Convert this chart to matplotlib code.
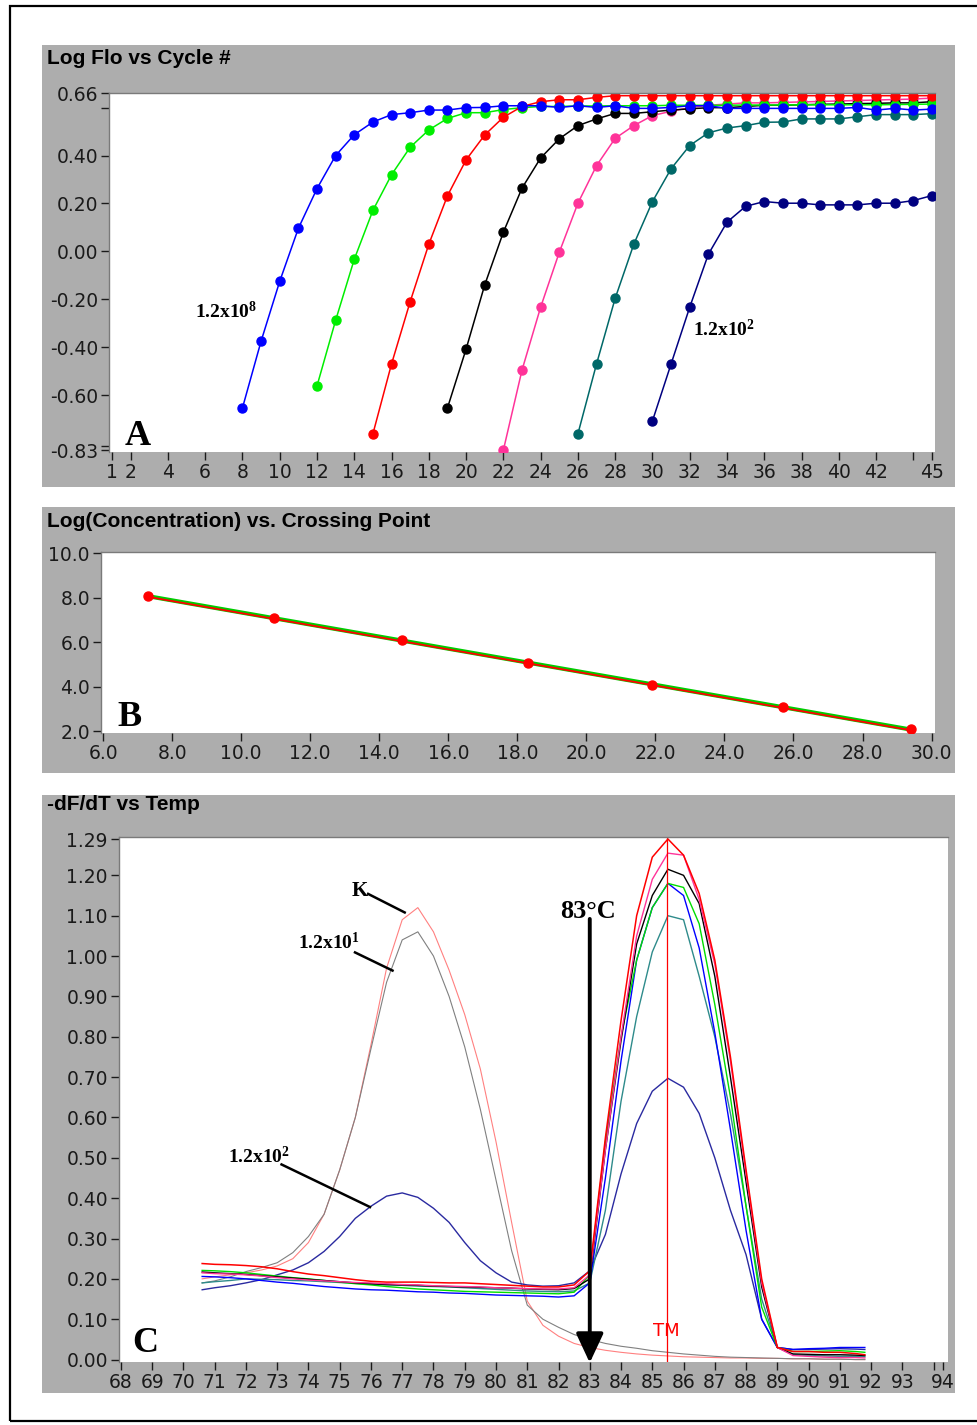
import numpy as np
import matplotlib
matplotlib.use("Agg")
import matplotlib.pyplot as plt
from matplotlib.patches import Rectangle

# ---------------- DATA ----------------
# Panel A : Log fluorescence vs cycle number (each series starts at its first plotted cycle)
A_START = {"navy": 30, "teal": 26, "pink": 22, "black": 19, "green": 12, "red": 15, "blue": 8}
A_BLUE = [-0.654, -0.375, -0.125, 0.096, 0.262, 0.400, 0.487, 0.540, 0.571, 0.579, 0.590, 0.590,
          0.600, 0.601, 0.608, 0.608, 0.608, 0.601, 0.608, 0.601, 0.608, 0.597, 0.597, 0.601,
          0.608, 0.608, 0.597, 0.597, 0.597, 0.597, 0.597, 0.597, 0.597, 0.601, 0.590, 0.597,
          0.590, 0.594]
A_GREEN = [-0.562, -0.288, -0.033, 0.171, 0.320, 0.435, 0.507, 0.555, 0.579, 0.579, 0.592, 0.600,
           0.605, 0.605, 0.607, 0.607, 0.608, 0.608, 0.608, 0.610, 0.610, 0.610, 0.610, 0.611,
           0.611, 0.611, 0.612, 0.612, 0.612, 0.612, 0.612, 0.613, 0.614, 0.615]
A_RED = [-0.762, -0.470, -0.210, 0.030, 0.232, 0.382, 0.486, 0.560, 0.605, 0.625, 0.633, 0.633,
         0.643, 0.650, 0.650, 0.650, 0.650, 0.650, 0.650, 0.650, 0.650, 0.650, 0.650, 0.650,
         0.650, 0.650, 0.650, 0.650, 0.650, 0.650, 0.650]
A_BLACK = [-0.654, -0.408, -0.140, 0.080, 0.264, 0.390, 0.470, 0.525, 0.553, 0.576, 0.576, 0.583,
           0.590, 0.595, 0.600, 0.600, 0.605, 0.610, 0.610, 0.612, 0.614, 0.615, 0.617, 0.618,
           0.620, 0.620, 0.625]
A_PINK = [-0.830, -0.496, -0.233, -0.004, 0.201, 0.358, 0.472, 0.525, 0.567, 0.585, 0.600, 0.610,
          0.615, 0.620, 0.620, 0.622, 0.624, 0.626, 0.628, 0.630, 0.632, 0.634, 0.636, 0.640]
A_TEAL = [-0.762, -0.470, -0.196, 0.030, 0.208, 0.345, 0.442, 0.495, 0.515, 0.525, 0.539, 0.540,
          0.553, 0.553, 0.553, 0.562, 0.571, 0.571, 0.571, 0.575]
A_NAVY = [-0.708, -0.470, -0.233, -0.012, 0.122, 0.188, 0.208, 0.201, 0.201, 0.194, 0.194, 0.194,
          0.201, 0.201, 0.212, 0.233]
A_XTICKS = [1, 2, 4, 6, 8, 10, 12, 14, 16, 18, 20, 22, 24, 26, 28, 30, 32, 34, 36, 38, 40, 42, 44, 45]
A_XLABELS = ["1", "2", "4", "6", "8", "10", "12", "14", "16", "18", "20", "22", "24", "26", "28",
             "30", "32", "34", "36", "38", "40", "42", "", "45"]
A_YTICKS = [0.66, 0.60, 0.40, 0.20, 0.00, -0.20, -0.40, -0.60, -0.815, -0.83]
A_YLABELS = ["0.66", "", "0.40", "0.20", "0.00", "-0.20", "-0.40", "-0.60", "", "-0.83"]

# Panel B : Log(concentration) vs crossing point
B_CP = [7.29, 10.94, 14.65, 18.30, 21.89, 25.69, 29.41]
B_LOGC = [8.08, 7.08, 6.08, 5.08, 4.08, 3.08, 2.08]
B_XTICKS = [6.0, 8.0, 10.0, 12.0, 14.0, 16.0, 18.0, 20.0, 22.0, 24.0, 26.0, 28.0, 30.0]
B_YTICKS = [2.0, 4.0, 6.0, 8.0, 10.0]

# Panel C : -dF/dT vs temperature
C_T = [70.6, 71.0, 71.5, 72.0, 72.5, 73.0, 73.5, 74.0, 74.5, 75.0, 75.5, 76.0, 76.5, 77.0, 77.5,
       78.0, 78.5, 79.0, 79.5, 80.0, 80.5, 81.0, 81.5, 82.0, 82.5, 83.0, 83.5, 84.0, 84.5, 85.0,
       85.5, 86.0, 86.5, 87.0, 87.5, 88.0, 88.5, 89.0, 89.5, 90.0, 90.5, 91.0, 91.5, 91.8]
C_K = [0.200, 0.205, 0.210, 0.215, 0.222, 0.232, 0.250, 0.290, 0.360, 0.470, 0.600, 0.780, 0.970,
       1.090, 1.120, 1.060, 0.965, 0.855, 0.720, 0.540, 0.340, 0.145, 0.085, 0.058, 0.040, 0.030,
       0.023, 0.018, 0.014, 0.011, 0.009, 0.007, 0.006, 0.005, 0.004, 0.004, 0.003, 0.003, 0.002,
       0.002, 0.001, 0.001, 0.000, 0.000]
C_E1 = [0.190, 0.195, 0.205, 0.218, 0.228, 0.240, 0.265, 0.305, 0.360, 0.470, 0.600, 0.770, 0.935,
        1.040, 1.060, 1.000, 0.900, 0.775, 0.620, 0.445, 0.270, 0.135, 0.100, 0.080, 0.062, 0.050,
        0.040, 0.033, 0.028, 0.022, 0.018, 0.014, 0.011, 0.008, 0.006, 0.005, 0.004, 0.003, 0.002,
        0.002, 0.001, 0.001, 0.000, 0.000]
C_E2 = [0.173, 0.178, 0.183, 0.190, 0.198, 0.210, 0.222, 0.240, 0.268, 0.305, 0.350, 0.380, 0.405,
        0.413, 0.402, 0.375, 0.340, 0.290, 0.245, 0.215, 0.192, 0.185, 0.182, 0.183, 0.190, 0.220,
        0.310, 0.460, 0.585, 0.665, 0.697, 0.675, 0.610, 0.500, 0.370, 0.260, 0.100, 0.030, 0.025,
        0.025, 0.026, 0.027, 0.026, 0.025]
C_TEAL = [0.190, 0.193, 0.196, 0.200, 0.199, 0.198, 0.196, 0.195, 0.193, 0.191, 0.189, 0.187, 0.185,
          0.184, 0.182, 0.181, 0.180, 0.178, 0.176, 0.174, 0.172, 0.170, 0.169, 0.168, 0.170, 0.190,
          0.370, 0.640, 0.850, 1.010, 1.100, 1.090, 0.950, 0.800, 0.610, 0.380, 0.150, 0.030, 0.012,
          0.010, 0.009, 0.008, 0.008, 0.007]
C_BLUE = [0.206, 0.205, 0.203, 0.200, 0.196, 0.192, 0.189, 0.185, 0.181, 0.178, 0.175, 0.173, 0.172,
          0.170, 0.168, 0.167, 0.165, 0.164, 0.162, 0.160, 0.159, 0.158, 0.157, 0.155, 0.158, 0.190,
          0.450, 0.740, 0.990, 1.120, 1.180, 1.150, 1.020, 0.810, 0.570, 0.320, 0.100, 0.030, 0.025,
          0.027, 0.028, 0.030, 0.030, 0.030]
C_GREEN = [0.221, 0.220, 0.218, 0.215, 0.211, 0.207, 0.203, 0.200, 0.196, 0.192, 0.188, 0.185, 0.181,
           0.178, 0.175, 0.173, 0.171, 0.169, 0.168, 0.167, 0.166, 0.165, 0.164, 0.163, 0.167, 0.210,
           0.540, 0.800, 0.990, 1.120, 1.180, 1.170, 1.080, 0.880, 0.650, 0.380, 0.130, 0.030, 0.020,
           0.020, 0.021, 0.022, 0.020, 0.018]
C_BLACK = [0.217, 0.215, 0.213, 0.211, 0.208, 0.205, 0.202, 0.199, 0.196, 0.193, 0.190, 0.188, 0.186,
           0.185, 0.184, 0.182, 0.181, 0.180, 0.179, 0.178, 0.177, 0.175, 0.174, 0.173, 0.176, 0.200,
           0.520, 0.790, 1.030, 1.150, 1.215, 1.200, 1.130, 0.950, 0.700, 0.440, 0.180, 0.030, 0.014,
           0.013, 0.012, 0.012, 0.011, 0.010]
C_PINK = [0.215, 0.213, 0.212, 0.210, 0.207, 0.203, 0.200, 0.197, 0.195, 0.193, 0.191, 0.190, 0.188,
          0.186, 0.185, 0.183, 0.182, 0.181, 0.180, 0.178, 0.177, 0.176, 0.175, 0.175, 0.178, 0.210,
          0.520, 0.800, 1.050, 1.190, 1.255, 1.250, 1.140, 0.980, 0.740, 0.460, 0.190, 0.030, 0.010,
          0.008, 0.006, 0.005, 0.005, 0.004]
C_RED = [0.238, 0.236, 0.235, 0.233, 0.230, 0.225, 0.218, 0.212, 0.208, 0.203, 0.198, 0.194, 0.192,
         0.192, 0.192, 0.191, 0.190, 0.190, 0.188, 0.186, 0.184, 0.182, 0.180, 0.180, 0.185, 0.220,
         0.550, 0.840, 1.100, 1.245, 1.290, 1.250, 1.155, 0.990, 0.750, 0.470, 0.200, 0.030, 0.020,
         0.020, 0.018, 0.018, 0.015, 0.012]
C_TM = 85.46
C_XTICKS = list(range(68, 95)) + [94.3]
C_XLABELS = [str(v) for v in range(68, 94)] + ["", "94"]
C_YTICKS = [0.0, 0.1, 0.2, 0.3, 0.4, 0.5, 0.6, 0.7, 0.8, 0.9, 1.0, 1.1, 1.2, 1.29]
C_YLABELS = ["0.00", "0.10", "0.20", "0.30", "0.40", "0.50", "0.60", "0.70", "0.80", "0.90",
             "1.00", "1.10", "1.20", "1.29"]

# ---------------- STYLE ----------------
plt.rcParams["font.family"] = ["Liberation Sans Narrow", "DejaVu Sans"]
plt.rcParams["mathtext.fontset"] = "custom"
plt.rcParams["mathtext.bf"] = "Liberation Serif:bold"
plt.rcParams["mathtext.rm"] = "Liberation Serif"

W, H = 977, 1425
fig = plt.figure(figsize=(W / 100, H / 100), dpi=100, facecolor="white")


def frac(x0, y0, x1, y1):
    return [x0 / W, 1 - y1 / H, (x1 - x0) / W, (y1 - y0) / H]


GREY = "#adadad"
for (x0, y0, x1, y1) in [(42, 45, 955, 487), (42, 507, 955, 773), (42, 795, 955, 1393)]:
    fig.add_artist(Rectangle((x0 / W, 1 - y1 / H), (x1 - x0) / W, (y1 - y0) / H,
                             transform=fig.transFigure, facecolor=GREY, edgecolor="none", zorder=-5))
fig.add_artist(Rectangle((10 / W, 1 - 1421 / H), 990 / W, (1421 - 6) / H, transform=fig.transFigure,
                         fill=False, edgecolor="black", lw=1.6, zorder=-4, clip_on=False))

TITLE_KW = dict(family=["Liberation Sans", "DejaVu Sans"], weight="bold", fontsize=15,
                ha="left", va="center")
fig.text(47 / W, 1 - 59 / H, "Log Flo vs Cycle #", **TITLE_KW)
fig.text(47 / W, 1 - 522 / H, "Log(Concentration) vs. Crossing Point", **TITLE_KW)
fig.text(47 / W, 1 - 805 / H, "-dF/dT vs Temp", **TITLE_KW)

SERIF = ["Liberation Serif", "DejaVu Serif"]


def style_axes(ax):
    ax.set_facecolor("white")
    for s in ("right", "bottom"):
        ax.spines[s].set_visible(False)
    for s in ("top", "left"):
        ax.spines[s].set_color("#7a7a7a")
        ax.spines[s].set_linewidth(1.0)
    ax.tick_params(direction="out", length=6, width=1, colors="#1a1a1a", labelsize=13.5, pad=2)


# ---------------- PANEL A ----------------
axA = fig.add_axes(frac(109.3, 93.3, 935, 452))
style_axes(axA)
a_series = [("navy", A_NAVY, "#000080"), ("teal", A_TEAL, "#006868"), ("pink", A_PINK, "#ff3399"),
            ("black", A_BLACK, "#000000"), ("green", A_GREEN, "#00ee00"), ("red", A_RED, "#ff0000"),
            ("blue", A_BLUE, "#0000ff")]
for name, vals, col in a_series:
    x = np.arange(A_START[name], A_START[name] + len(vals))
    axA.plot(x, vals, "-o", color=col, lw=1.1, ms=6.5, mec=col)
axA.set_xlim(0.855, 45.16)
axA.set_ylim(-0.838, 0.66)
axA.set_xticks(A_XTICKS)
axA.set_xticklabels(A_XLABELS)
axA.set_yticks(A_YTICKS)
axA.set_yticklabels(A_YLABELS)
axA.text(5.45, -0.279, r"$\mathbf{1.2x10^{8}}$", fontsize=14, ha="left", va="baseline")
axA.text(32.17, -0.354, r"$\mathbf{1.2x10^{2}}$", fontsize=14, ha="left", va="baseline")
axA.text(1.70, -0.808, "A", family=SERIF, weight="bold", fontsize=26, ha="left", va="baseline")

# ---------------- PANEL B ----------------
axB = fig.add_axes(frac(101, 551.7, 935, 733.3))
style_axes(axB)
slope, icpt = np.polyfit(B_CP, B_LOGC, 1)
xf = np.array([B_CP[0], B_CP[-1]])
axB.plot(xf, slope * xf + icpt, color="#00cc00", lw=3.0, solid_capstyle="butt")
axB.plot(xf, slope * xf + icpt - 0.03, color="#ff0000", lw=1.3)
axB.plot(B_CP, B_LOGC, "o", color="#ff0000", ms=6.5)
axB.set_xlim(5.94, 30.1)
axB.set_ylim(1.9, 10.07)
axB.set_xticks(B_XTICKS)
axB.set_xticklabels([f"{v:.1f}" for v in B_XTICKS])
axB.set_yticks(B_YTICKS)
axB.set_yticklabels([f"{v:.1f}" for v in B_YTICKS])
axB.text(6.41, 2.22, "B", family=SERIF, weight="bold", fontsize=26, ha="left", va="baseline")

# ---------------- PANEL C ----------------
axC = fig.add_axes(frac(119, 837, 948, 1362))
style_axes(axC)
c_series = [(C_K, "#ff8080", 0.8), (C_E1, "#808080", 0.8), (C_E2, "#2a2aa0", 1.0),
            (C_TEAL, "#2e8b8b", 1.0), (C_BLUE, "#0000ff", 1.0), (C_GREEN, "#00dd00", 1.0),
            (C_BLACK, "#000000", 1.0), (C_PINK, "#ff3399", 1.0), (C_RED, "#ff0000", 1.1)]
for vals, col, lw in c_series:
    axC.plot(C_T, vals, color=col, lw=lw)
axC.axvline(C_TM, color="#ff0000", lw=0.9)
axC.text(C_TM, 0.07, "TM", color="#ff0000", fontsize=13, ha="center", va="center")
axC.set_xlim(67.94, 94.46)
axC.set_ylim(-0.006, 1.295)
axC.set_xticks(C_XTICKS)
axC.set_xticklabels(C_XLABELS)
axC.set_yticks(C_YTICKS)
axC.set_yticklabels(C_YLABELS)

axC.annotate("", xy=(83.0, -0.008), xytext=(83.0, 1.092), annotation_clip=False,
             arrowprops=dict(arrowstyle="-|>,head_length=0.9,head_width=0.42", lw=2.8,
                             color="black", mutation_scale=20, shrinkA=0, shrinkB=0))
axC.text(82.05, 1.095, "83°C", family=SERIF, weight="bold", fontsize=19, ha="left", va="baseline")
axC.text(75.39, 1.149, "K", family=SERIF, weight="bold", fontsize=15, ha="left", va="baseline")
axC.plot([75.91, 77.08], [1.154, 1.108], color="black", lw=1.8)
axC.text(73.66, 1.018, r"$\mathbf{1.2x10^{1}}$", fontsize=14, ha="left", va="baseline")
axC.plot([75.49, 76.69], [1.009, 0.964], color="black", lw=1.8)
axC.text(71.42, 0.486, r"$\mathbf{1.2x10^{2}}$", fontsize=14, ha="left", va="baseline")
axC.plot([73.14, 75.97], [0.4835, 0.378], color="black", lw=1.8)
axC.text(68.35, 0.018, "C", family=SERIF, weight="bold", fontsize=26, ha="left", va="baseline")

fig.savefig("out.png", dpi=100, facecolor="white")
